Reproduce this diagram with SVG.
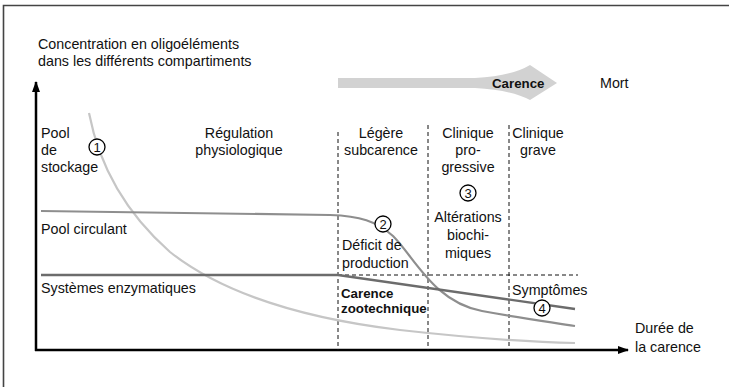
<svg xmlns="http://www.w3.org/2000/svg" width="729" height="387" viewBox="0 0 729 387">
<style>
text{font-family:"Liberation Sans",Arial,sans-serif;font-size:14.3px;fill:#111}
.b{font-weight:bold;font-size:13.3px}
.m{text-anchor:middle}
.dash{stroke:#111;stroke-width:1;stroke-dasharray:4,3;fill:none}
.ax{stroke:#000;stroke-width:2.5;fill:none}
.num{font-size:13px;text-anchor:middle}
.circ{fill:#fff;stroke:#000;stroke-width:1.3}
</style>
<defs>
<marker id="ah" markerWidth="11" markerHeight="8" refX="10" refY="4" orient="auto" markerUnits="userSpaceOnUse">
<path d="M0,0 L11,4 L0,8 Z" fill="#000"/>
</marker>
</defs>
<rect width="729" height="387" fill="#fff"/>
<path d="M3.5,387 V5.5 H729" stroke="#444" stroke-width="1.6" fill="none"/>
<g id="carence-arrow">
<path d="M338,78 L475,78 Q512,76 530,65 L557,83 L530,100 Q512,90 475,88 L338,88 Z" fill="#d2d2d2"/>
<text class="b" x="492" y="88">Carence</text>
</g>
<text x="600" y="88">Mort</text>
<g id="ylabel">
<text x="38" y="49">Concentration en oligoéléments</text>
<text x="38" y="66">dans les différents compartiments</text>
</g>
<g id="connectors">
<path class="ax" d="M36,351 V82" marker-end="url(#ah)"/>
<path class="ax" d="M35,350 H628" marker-end="url(#ah)"/>
<path class="dash" d="M338,132 V350"/>
<path class="dash" d="M428,125 V350"/>
<path class="dash" d="M509,125 V350"/>
<path class="dash" d="M338,275 H578"/>
<path d="M89,113 C100,170 128,215 170,252 C222,293 300,318 400,330 C480,339 530,342 575,343" stroke="#c6c6c6" stroke-width="2.2" fill="none"/>
<path d="M41,211 L330,215 C360,216 376,221 393,236 C415,258 434,302 482,311 C520,318 550,322 575,326" stroke="#8e8e8e" stroke-width="2.2" fill="none"/>
<path d="M41,275 L338,275 L575,309" stroke="#6c6c6c" stroke-width="2.4" fill="none"/>
</g>
<g id="stockage">
<text x="41" y="138">Pool</text>
<text x="41" y="155">de</text>
<text x="41" y="172">stockage</text>
</g>
<g id="regulation">
<text class="m" x="239" y="138">Régulation</text>
<text class="m" x="239" y="155">physiologique</text>
</g>
<g id="legere">
<text class="m" x="381" y="138">Légère</text>
<text class="m" x="381" y="155">subcarence</text>
</g>
<g id="clinique-prog">
<text class="m" x="468" y="138">Clinique</text>
<text class="m" x="468" y="155">pro-</text>
<text class="m" x="468" y="172">gressive</text>
</g>
<g id="clinique-grave">
<text class="m" x="538" y="138">Clinique</text>
<text class="m" x="538" y="155">grave</text>
</g>
<g id="circulant"><text x="41" y="234">Pool circulant</text></g>
<g id="enzym"><text x="41" y="293">Systèmes enzymatiques</text></g>
<g id="deficit">
<text x="342" y="250">Déficit de</text>
<text x="342" y="268">production</text>
</g>
<g id="alterations">
<text class="m" x="468" y="222">Altérations</text>
<text class="m" x="468" y="240">biochi-</text>
<text class="m" x="468" y="258">miques</text>
</g>
<g id="zootech">
<text class="b" x="341" y="298">Carence</text>
<text class="b" x="341" y="313">zootechnique</text>
</g>
<g id="symptomes"><text x="512" y="295">Symptômes</text></g>
<g id="duree">
<text x="635" y="333">Durée de</text>
<text x="635" y="352">la carence</text>
</g>
<g id="c1"><circle class="circ" cx="97" cy="147" r="8"/><text class="num" x="97" y="151.5">1</text></g>
<g id="c2"><circle class="circ" cx="383" cy="224" r="8"/><text class="num" x="383" y="228.5">2</text></g>
<g id="c3"><circle class="circ" cx="468" cy="193" r="8"/><text class="num" x="468" y="197.5">3</text></g>
<g id="c4"><circle class="circ" cx="542" cy="308" r="8"/><text class="num" x="542" y="312.5">4</text></g>
</svg>
